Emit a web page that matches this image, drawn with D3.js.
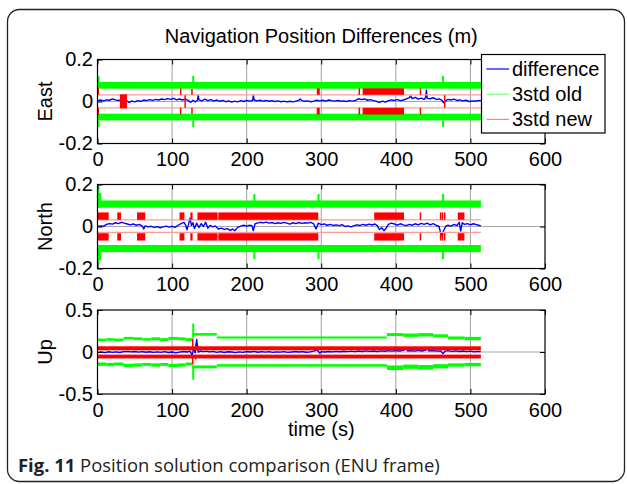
<!DOCTYPE html>
<html><head><meta charset="utf-8">
<script src="https://cdn.jsdelivr.net/npm/d3@7"></script>
<style>
body{margin:0;background:#fff}
svg{display:block}
</style>
</head><body>
<script>
// ---------------- DATA ----------------
const xTicks = [0, 100, 200, 300, 400, 500, 600];
const panelNames = ["East", "North", "Up"];
const yTicksEast = [-0.2, 0, 0.2];
const yTicksNorth = [-0.2, 0, 0.2];
const yTicksUp = [-0.5, 0, 0.5];
const legendLabels = ["difference", "3std old", "3std new"];
const titleText = "Navigation Position Differences (m)";
const xLabel = "time (s)";
const captionBold = "Fig. 11";
const captionText = " Position solution comparison (ENU frame)";

// difference series [t, value]
const eastDiff = [[0,0.004],[4,0.007],[8,0.003],[12,0.008],[16,0.006],[20,0.012],[24,0.008],[28,0.005],[32,0.007],[36,0.004],[40,0.002],[43,-0.005],[46,0.003],[50,-0.002],[54,0.004],[58,0.001],[62,0.007],[66,0.004],[70,0.009],[74,0.005],[78,0.010],[82,0.007],[86,0.012],[90,0.009],[94,0.014],[98,0.010],[102,0.015],[106,0.008],[110,0.012],[114,0.007],[118,0.011],[122,0.004],[125,-0.004],[128,0.006],[131,-0.002],[134,0.006],[135,0.030],[136,0.008],[140,0.003],[144,0.011],[148,0.004],[152,0.009],[156,0.002],[160,0.007],[164,0.001],[168,0.005],[172,-0.001],[176,0.003],[180,-0.003],[184,0.002],[188,-0.002],[192,0.004],[196,0.0],[200,0.005],[204,0.002],[208,0.006],[209,0.029],[210,0.007],[214,0.003],[218,0.006],[222,0.002],[226,0.005],[230,0.001],[234,0.004],[238,0.0],[242,0.003],[246,-0.001],[250,0.002],[254,-0.002],[258,0.001],[262,-0.002],[266,0.002],[270,0.006],[272,0.012],[274,0.004],[278,0.001],[282,0.003],[286,-0.001],[290,0.002],[294,0.006],[298,0.003],[302,0.006],[306,0.002],[310,0.007],[314,0.004],[318,0.002],[322,0.005],[326,0.001],[330,0.003],[334,0.0],[338,0.004],[342,0.002],[346,0.005],[350,0.013],[354,0.009],[358,0.012],[362,0.006],[366,0.009],[370,0.004],[374,0.001],[378,-0.004],[382,0.002],[386,-0.003],[390,0.004],[394,0.008],[398,0.005],[402,0.009],[406,0.004],[410,0.007],[414,0.012],[418,0.018],[420,0.026],[422,0.014],[426,0.020],[430,0.011],[434,0.016],[438,0.010],[440,0.020],[441,0.055],[442,0.015],[446,0.013],[450,0.018],[454,0.010],[458,0.012],[462,0.005],[464,-0.006],[467,0.004],[470,0.010],[474,0.007],[478,0.011],[482,0.005],[486,0.008],[490,0.003],[494,0.006],[498,0.0],[502,0.003],[506,0.001],[510,0.004],[514,0.005]];
const northDiff = [[0,0.0],[4,0.003],[8,0.001],[12,0.010],[16,0.014],[20,0.011],[24,0.018],[28,0.014],[32,0.020],[36,0.016],[40,0.012],[44,0.008],[48,0.012],[52,0.006],[56,0.010],[60,0.002],[62,-0.012],[64,0.003],[68,-0.002],[72,0.001],[76,-0.004],[80,-0.001],[84,-0.006],[88,-0.002],[92,0.002],[96,-0.003],[100,0.001],[104,-0.004],[108,0.006],[112,0.014],[116,0.020],[118,0.008],[120,-0.016],[122,0.010],[124,0.040],[126,0.005],[128,0.018],[130,-0.010],[133,0.016],[136,-0.005],[139,0.014],[142,0.0],[145,0.020],[148,-0.008],[151,0.005],[155,-0.002],[158,0.003],[162,-0.012],[166,-0.008],[170,-0.014],[174,-0.010],[178,-0.018],[181,-0.012],[184,-0.020],[188,-0.004],[192,0.002],[196,0.006],[200,0.002],[204,0.006],[207,0.004],[209,-0.020],[211,0.012],[214,0.016],[218,0.020],[222,0.017],[226,0.021],[230,0.016],[234,0.019],[238,0.014],[242,0.018],[246,0.015],[250,0.020],[254,0.016],[258,0.011],[262,0.018],[266,0.014],[270,0.019],[274,0.015],[278,0.018],[282,0.016],[286,0.020],[290,0.012],[293,-0.012],[296,0.016],[300,0.009],[304,0.012],[308,0.006],[312,0.010],[316,0.005],[320,0.008],[324,0.004],[328,0.009],[332,0.0],[336,0.003],[340,-0.002],[344,0.004],[348,0.008],[352,0.005],[356,0.010],[360,0.006],[364,0.011],[368,0.007],[372,0.012],[375,0.004],[378,-0.014],[381,-0.006],[384,-0.020],[387,-0.008],[390,0.010],[394,0.016],[398,0.012],[402,0.006],[406,0.013],[410,0.008],[414,0.004],[418,0.010],[422,0.006],[426,0.013],[430,0.008],[434,0.015],[438,0.010],[442,0.016],[446,0.008],[450,0.014],[454,0.006],[458,0.0],[460,-0.030],[462,-0.045],[464,-0.020],[467,0.002],[470,0.006],[474,0.002],[478,0.010],[482,0.004],[485,0.020],[487,-0.022],[489,0.018],[492,0.010],[496,0.014],[500,0.008],[504,0.013],[508,0.009],[511,0.006],[514,0.003]];
const upDiff = [[0,-0.005],[5,0.0],[10,-0.008],[15,0.003],[20,-0.004],[25,0.002],[30,-0.006],[35,0.004],[40,0.008],[45,0.002],[50,0.006],[55,-0.002],[60,0.004],[65,-0.003],[70,0.003],[75,-0.005],[80,0.002],[85,-0.004],[90,0.004],[95,-0.006],[100,0.0],[105,-0.010],[110,-0.002],[115,0.006],[120,0.0],[124,0.010],[127,-0.040],[129,0.050],[131,-0.010],[133,0.150],[135,0.0],[138,0.012],[142,0.004],[146,0.010],[150,0.002],[155,0.008],[160,-0.004],[165,0.004],[170,-0.006],[175,0.003],[180,0.0],[185,-0.008],[190,0.002],[195,-0.004],[200,0.006],[205,0.0],[210,0.008],[215,-0.003],[220,0.004],[225,-0.002],[230,0.005],[235,-0.004],[240,0.002],[245,-0.002],[250,0.004],[255,-0.005],[260,0.0],[265,0.006],[270,0.0],[275,0.004],[280,-0.003],[285,0.002],[290,0.010],[294,0.025],[296,0.010],[298,-0.015],[300,0.004],[305,0.0],[310,0.006],[315,0.002],[320,0.008],[325,0.003],[330,0.009],[335,0.004],[340,0.010],[345,0.005],[350,0.012],[355,0.006],[360,0.014],[365,0.008],[370,0.012],[375,0.006],[380,0.013],[385,0.009],[390,0.016],[395,0.010],[400,0.018],[405,0.012],[410,0.020],[414,0.040],[416,0.012],[420,0.018],[425,0.010],[430,0.020],[435,0.012],[440,0.022],[442,0.055],[444,0.014],[450,0.018],[455,0.010],[460,0.014],[463,-0.020],[466,0.010],[470,0.016],[475,0.008],[480,0.014],[485,0.006],[490,0.012],[495,0.004],[500,0.010],[505,0.002],[510,0.008],[514,0.004]];

// 3std old: bands [t0, t1, lo, hi] and spikes [t, from, to]
const eastOldBands = [[0,514,0.061,0.093],[0,514,-0.090,-0.058]];
const eastOldSpikes = [[0,0.09,0.12],[0,-0.09,-0.12],[127,0.09,0.121],[127,-0.09,-0.121],[462,0.09,0.121],[462,-0.09,-0.121]];
const northOldBands = [[0,514,0.090,0.124],[0,514,-0.122,-0.088],[0,5,0.09,0.16],[0,5,-0.16,-0.09]];
const northOldSpikes = [[0,0.12,0.19],[0,-0.12,-0.18],[209,0.12,0.155],[209,-0.12,-0.155],[295,0.12,0.155],[295,-0.12,-0.155],[462,0.12,0.155],[462,-0.12,-0.155]];
const upOldBands = [[0,12,0.13,0.16],[12,22,0.135,0.165],[22,35,0.13,0.16],[35,48,0.15,0.18],[48,60,0.14,0.175],[60,72,0.135,0.165],[72,84,0.14,0.175],[84,95,0.13,0.165],[95,108,0.145,0.18],[108,118,0.14,0.175],[118,127,0.13,0.165],[127,160,0.195,0.225],[160,388,0.16,0.185],[388,410,0.19,0.225],[410,430,0.18,0.22],[430,450,0.185,0.225],[450,470,0.175,0.21],[470,492,0.15,0.185],[492,514,0.14,0.18],
  [0,12,-0.165,-0.125],[12,22,-0.17,-0.13],[22,35,-0.16,-0.125],[35,48,-0.18,-0.14],[48,60,-0.175,-0.135],[60,72,-0.165,-0.13],[72,84,-0.175,-0.135],[84,95,-0.165,-0.13],[95,108,-0.18,-0.14],[108,118,-0.175,-0.135],[118,127,-0.16,-0.125],[127,160,-0.195,-0.16],[160,388,-0.175,-0.145],[388,410,-0.215,-0.16],[410,430,-0.2,-0.15],[430,450,-0.21,-0.155],[450,470,-0.195,-0.145],[470,492,-0.175,-0.135],[492,514,-0.17,-0.13]];
const upOldSpikes = [[127,0.17,0.34],[127,-0.16,-0.33]];

// 3std new: thin levels [t0, t1, v], blocks [t0, t1, lo, hi], spikes [t, from, to]
const eastNewLevels = [[0,514,0.032],[0,514,-0.030]];
const eastNewBlocks = [[0,1.5,0.032,0.063],[0,1.5,-0.062,-0.030],[110.5,112,0.032,0.063],[110.5,112,-0.062,-0.030],[294,298,0.032,0.063],[294,298,-0.062,-0.030],[350,351.5,0.032,0.063],[350,351.5,-0.062,-0.030],[355.5,411,0.032,0.063],[355.5,411,-0.062,-0.030],[432,433.5,0.032,0.063],[432,433.5,-0.062,-0.030],[30,39.5,-0.033,0.034],[116.5,118,-0.030,0.030],[464.5,466,-0.030,0.030]];
const eastNewSpikes = [[126,0.032,0.06],[126,-0.03,-0.058]];
const northNewLevels = [[0,514,0.032],[0,514,-0.028]];
const northNewSpans = [[0,15],[26.5,31.5],[53,64],[110,116.5],[124.5,127.5],[134,161],[162,296],[371,411],[432,433.5],[459,460.5],[461.5,463],[464.5,466],[483,492]];
const northNewRange = [0.032, 0.067];
const upNewBlocks = [[0,514,0.02,0.068],[0,514,-0.077,-0.031]];
const upNewSpikes = [[127,0.06,0.16],[127,-0.07,-0.15],[131,0.06,0.10],[131,-0.07,-0.09]];

// ---------------- LAYOUT ----------------
const W = 627, H = 484;
const X0 = 97.5, X1 = 545;
const FONT = "'Liberation Sans', Arial, Helvetica, sans-serif";
const svg = d3.select("body").append("svg").attr("width", W).attr("height", H);

svg.append("rect").attr("x", 7.5).attr("y", 9.5).attr("width", 617).attr("height", 472)
  .attr("rx", 12).attr("fill", "#fff").attr("stroke", "#222").attr("stroke-width", 1.3);

const x = d3.scaleLinear().domain([0, 600]).range([X0, X1]);

const panels = [
  {name: panelNames[0], top: 59.5, bottom: 143.5, ticks: yTicksEast, diff: eastDiff,
   oldBands: eastOldBands, oldSpikes: eastOldSpikes, newLevels: eastNewLevels,
   newBlocks: eastNewBlocks, newSpikes: eastNewSpikes},
  {name: panelNames[1], top: 184.5, bottom: 268.5, ticks: yTicksNorth, diff: northDiff,
   oldBands: northOldBands, oldSpikes: northOldSpikes, newLevels: northNewLevels,
   newBlocks: northNewSpans.flatMap(s => [[s[0], s[1], northNewRange[0], northNewRange[1]], [s[0], s[1], -northNewRange[1], -northNewRange[0]]]),
   newSpikes: []},
  {name: panelNames[2], top: 310, bottom: 394, ticks: yTicksUp, diff: upDiff,
   oldBands: upOldBands, oldSpikes: upOldSpikes, newLevels: [],
   newBlocks: upNewBlocks, newSpikes: upNewSpikes}
];

const GREEN = "#00ff00", RED = "#ff0000", BLUE = "#0000ff", PINK = "#ff9a9a";

panels.forEach(p => {
  const y = d3.scaleLinear().domain([p.ticks[0], p.ticks[2]]).range([p.bottom, p.top]);
  const g = svg.append("g");
  const clipId = "clip" + p.name;
  svg.append("clipPath").attr("id", clipId).append("rect")
    .attr("x", X0).attr("y", p.top).attr("width", X1 - X0).attr("height", p.bottom - p.top);

  // grid
  g.selectAll(".vg").data(xTicks.slice(1, -1)).join("line")
    .attr("x1", d => x(d)).attr("x2", d => x(d)).attr("y1", p.top).attr("y2", p.bottom)
    .attr("stroke", "#a0a0a0").attr("stroke-width", 1);
  g.selectAll(".hg").data(p.ticks.slice(1, -1)).join("line")
    .attr("x1", X0).attr("x2", X1).attr("y1", d => y(d)).attr("y2", d => y(d))
    .attr("stroke", "#a8a8a8").attr("stroke-width", 1);

  const d = g.append("g").attr("clip-path", `url(#${clipId})`);
  // difference
  d.append("path").datum(p.diff)
    .attr("d", d3.line().x(v => x(v[0])).y(v => y(v[1])))
    .attr("fill", "none").attr("stroke", BLUE).attr("stroke-width", 1.4).attr("stroke-linejoin", "round");
  // 3std old
  d.selectAll(".ob").data(p.oldBands).join("rect")
    .attr("x", b => x(b[0])).attr("width", b => Math.max(1.5, x(b[1]) - x(b[0])))
    .attr("y", b => y(b[3])).attr("height", b => y(b[2]) - y(b[3])).attr("fill", GREEN);
  d.selectAll(".os").data(p.oldSpikes).join("line")
    .attr("x1", s => x(s[0]) + 1).attr("x2", s => x(s[0]) + 1)
    .attr("y1", s => y(s[1])).attr("y2", s => y(s[2])).attr("stroke", GREEN).attr("stroke-width", 2);
  // 3std new
  d.selectAll(".nl").data(p.newLevels).join("line")
    .attr("x1", l => x(l[0])).attr("x2", l => x(l[1])).attr("y1", l => y(l[2])).attr("y2", l => y(l[2]))
    .attr("stroke", PINK).attr("stroke-width", 1.3);
  d.selectAll(".nb").data(p.newBlocks).join("rect")
    .attr("x", b => x(b[0])).attr("width", b => Math.max(1.5, x(b[1]) - x(b[0])))
    .attr("y", b => y(b[3])).attr("height", b => y(b[2]) - y(b[3])).attr("fill", RED);
  d.selectAll(".ns").data(p.newSpikes).join("line")
    .attr("x1", s => x(s[0]) + 0.5).attr("x2", s => x(s[0]) + 0.5)
    .attr("y1", s => y(s[1])).attr("y2", s => y(s[2])).attr("stroke", RED).attr("stroke-width", 1.5);

  // axes (MATLAB style: ticks inside)
  const fmt = v => String(v);
  const ax = g.append("g").attr("transform", `translate(0,${p.bottom})`)
    .call(d3.axisBottom(x).tickValues(xTicks).tickSizeInner(-5).tickSizeOuter(0).tickPadding(8.5).tickFormat(fmt));
  g.append("g").attr("transform", `translate(0,${p.top})`)
    .call(d3.axisTop(x).tickValues(xTicks).tickSizeInner(-5).tickSizeOuter(0).tickFormat(""));
  const ay = g.append("g").attr("transform", `translate(${X0},0)`)
    .call(d3.axisLeft(y).tickValues(p.ticks).tickSizeInner(-5).tickSizeOuter(0).tickPadding(4.5).tickFormat(fmt));
  g.append("g").attr("transform", `translate(${X1},0)`)
    .call(d3.axisRight(y).tickValues(p.ticks).tickSizeInner(-5).tickSizeOuter(0).tickFormat(""));
  g.selectAll(".domain").remove();
  g.selectAll(".tick line").attr("stroke", "#000").attr("stroke-width", 1);
  [ax, ay].forEach(a => a.selectAll("text").attr("font-family", FONT).attr("font-size", 20).attr("fill", "#000"));

  g.append("rect").attr("x", X0).attr("y", p.top).attr("width", X1 - X0).attr("height", p.bottom - p.top)
    .attr("fill", "none").attr("stroke", "#000").attr("stroke-width", 1.2);

  // y label
  g.append("text").attr("transform", `translate(51.5,${(p.top + p.bottom) / 2}) rotate(-90)`)
    .attr("text-anchor", "middle").attr("font-family", FONT).attr("font-size", 20).text(p.name);
});

// title
svg.append("text").attr("x", (X0 + X1) / 2).attr("y", 42.7).attr("text-anchor", "middle")
  .attr("font-family", FONT).attr("font-size", 20).text(titleText);
// x label
svg.append("text").attr("x", (X0 + X1) / 2).attr("y", 436).attr("text-anchor", "middle")
  .attr("font-family", FONT).attr("font-size", 20).text(xLabel);

// legend
const lg = svg.append("g");
lg.append("rect").attr("x", 481.5).attr("y", 54.5).attr("width", 123.5).attr("height", 78.5)
  .attr("fill", "#fff").attr("stroke", "#000").attr("stroke-width", 1.2);
const legColors = [BLUE, "#7dff7d", "#ff8080"];
legendLabels.forEach((lab, i) => {
  const yy = 69 + i * 25.2;
  lg.append("line").attr("x1", 486.5).attr("x2", 509).attr("y1", yy).attr("y2", yy)
    .attr("stroke", legColors[i]).attr("stroke-width", 1.2);
  lg.append("text").attr("x", 512).attr("y", yy + 7).attr("font-family", FONT).attr("font-size", 20).text(lab);
});

// caption (fit to its measured span in the reference)
const cap = svg.append("text").attr("x", 18).attr("y", 471.5)
  .attr("font-family", "'Open Sans', 'Noto Sans', sans-serif").attr("font-size", 18).attr("fill", "#222");
cap.append("tspan").attr("font-weight", "bold").text(captionBold);
cap.append("tspan").text(captionText);
const capLen = cap.node().getComputedTextLength();
cap.attr("font-size", 18 * 422 / capLen);
</script>
</body></html>
